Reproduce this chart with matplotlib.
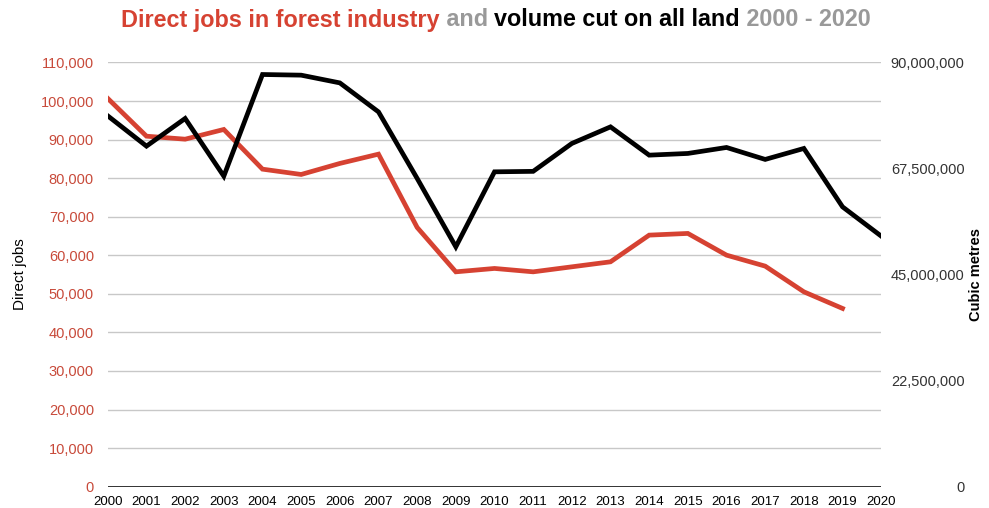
import matplotlib
matplotlib.use("Agg")
import matplotlib.pyplot as plt
from matplotlib.ticker import FuncFormatter

years = list(range(2000, 2021))
jobs_years = list(range(2000, 2020))
direct_jobs = [100670, 90890, 90110, 92630, 82340, 80960, 83820, 86230, 67220, 55710,
               56590, 55710, 57010, 58310, 65230, 65670, 60040, 57190, 50530, 46220]
volume_cut = [78.67e6, 72.25e6, 78.12e6, 65.88e6, 87.45e6, 87.31e6, 85.67e6, 79.52e6, 65.4e6, 50.89e6,
              66.80e6, 66.90e6, 72.82e6, 76.34e6, 70.34e6, 70.70e6, 71.97e6, 69.43e6, 71.76e6, 59.37e6,
              53.16e6]
left_ticks = list(range(0, 110001, 10000))
right_ticks = [0, 22.5e6, 45e6, 67.5e6, 90e6]

plt.rcParams['font.family'] = ['Liberation Sans', 'DejaVu Sans']

RED = '#d64232'
TICKRED = '#c84a3a'
GRAY = '#999999'

fig = plt.figure(figsize=(9.89, 5.08), dpi=100)
ax = fig.add_axes([0.109, 0.042, 0.782, 0.835])
ax2 = ax.twinx()

ax.plot(jobs_years, direct_jobs, color=RED, lw=3.4, solid_joinstyle='miter', zorder=3)
ax2.plot(years, volume_cut, color='black', lw=3.4, solid_joinstyle='miter', zorder=3)

ax.set_xlim(2000, 2020)
ax.set_ylim(0, 110000)
ax2.set_ylim(0, 90e6)
ax.set_yticks(left_ticks)
ax2.set_yticks(right_ticks)
ax.set_xticks(years)
ax.set_xticklabels([str(y) for y in years], fontsize=9.5)
ax.yaxis.set_major_formatter(FuncFormatter(lambda v, p: f"{int(v):,}"))
ax2.yaxis.set_major_formatter(FuncFormatter(lambda v, p: f"{int(v):,}"))
ax.tick_params(axis='y', colors=TICKRED, labelsize=10.5, length=0, pad=10)
ax2.tick_params(axis='y', colors='#333333', labelsize=10.5, length=0, pad=60)
for lbl in ax2.get_yticklabels():
    lbl.set_horizontalalignment('right')
ax.tick_params(axis='x', colors='black', length=0, pad=7)
for a in (ax, ax2):
    for s in a.spines.values():
        s.set_visible(False)
ax.grid(axis='y', color='#c8c8c8', lw=1.0)
ax.set_axisbelow(True)
ax.axhline(0, color='#333333', lw=1.4, zorder=2)

ax.set_ylabel('Direct jobs', fontsize=11, color='black')
ax.yaxis.set_label_coords(-0.104, 0.5)
ax2.set_ylabel('Cubic metres', fontsize=10.5, color='black', fontweight='bold')
ax2.yaxis.set_label_coords(1.114, 0.5)

# multi-coloured title
parts = [("Direct jobs in forest industry", RED), (" and ", GRAY),
         ("volume cut on all land", 'black'), (" 2000 - 2020", GRAY)]
fig.canvas.draw()
r = fig.canvas.get_renderer()
texts = []
for s, c in parts:
    t = fig.text(0, 0, s, color=c, fontsize=16.8, fontweight='bold', va='center', ha='left')
    texts.append(t)
widths = [t.get_window_extent(r).width for t in texts]
total = sum(widths)
x0 = 496 - total / 2
for t, w in zip(texts, widths):
    t.set_position((x0 / 989, 1 - 20 / 508))
    x0 += w

fig.savefig('out.png', dpi=100)
